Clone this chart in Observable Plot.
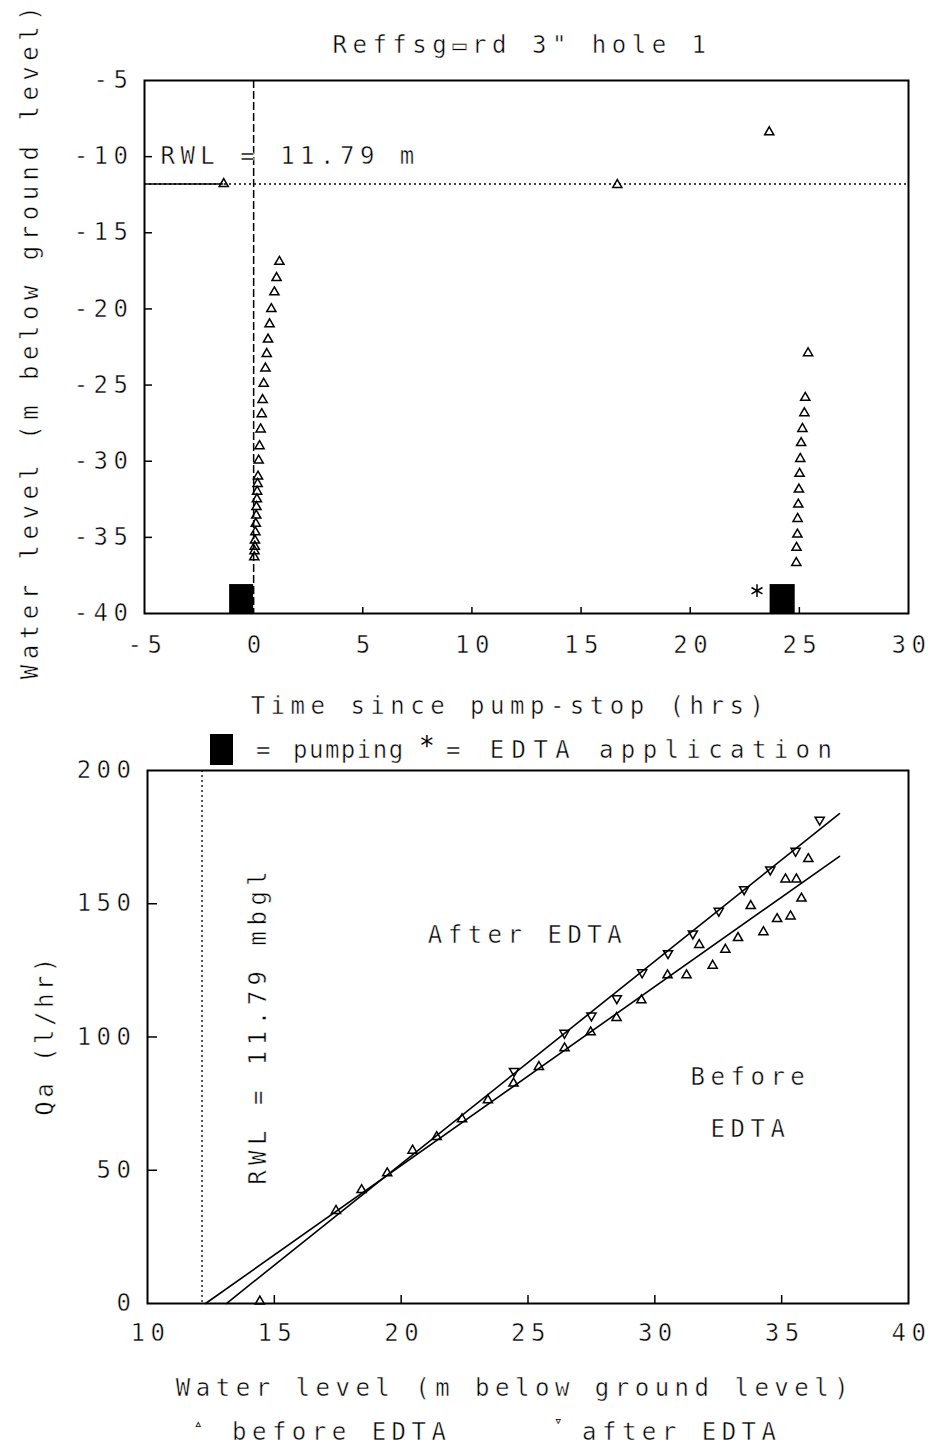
<!DOCTYPE html>
<html><head><meta charset="utf-8">
<script src="https://cdn.jsdelivr.net/npm/d3@7"></script>
<script src="https://cdn.jsdelivr.net/npm/@observablehq/plot@0.6"></script>
<style>
body{margin:0;background:#fff;}
#root{position:relative;width:946px;height:1448px;overflow:hidden;background:#fff;font-family:"DejaVu Sans Mono",monospace;color:#000;}
.lbl{position:absolute;white-space:nowrap;font-size:24px;letter-spacing:5.5px;line-height:1;-webkit-text-stroke:0.5px #fff;paint-order:fill;}
.c{transform:translate(-50%,-50%);}
.r{transform:translate(-50%,-50%) rotate(-90deg);}
#root svg{position:absolute;left:0;overflow:visible;}
#root svg text{stroke:#fff;stroke-width:0.5px;paint-order:fill;}
</style></head><body><div id="root"></div>
<script>
// ---------- Top panel data ----------
const titleText = 'Reffsg\u25ADrd 3" hole 1';
const topXTicks = [-5, 0, 5, 10, 15, 20, 25, 30];
const topYTicks = [-5, -10, -15, -20, -25, -30, -35, -40];
const rwlTop = -11.79;
const timeHrs = [-1.37, 16.66, 23.62,
  1.18, 1.05, 0.95, 0.81, 0.73, 0.66, 0.60, 0.54, 0.46, 0.41, 0.37, 0.32, 0.27, 0.23, 0.20,
  0.18, 0.16, 0.15, 0.13, 0.12, 0.10, 0.08, 0.06, 0.05, 0.04, 0.03,
  25.40, 25.27, 25.23, 25.14, 25.08, 25.04, 25.01, 24.98, 24.95, 24.92, 24.91, 24.87, 24.86];
const waterLevelTop = [-11.79, -11.85, -8.39,
  -16.9, -17.96, -18.9, -20.0, -21.0, -22.0, -22.95, -23.9, -24.9, -25.97, -26.9, -27.9, -29.0, -29.95, -31.0,
  -31.48, -31.99, -32.49, -33.0, -33.56, -34.1, -34.66, -35.2, -35.6, -35.9, -36.3,
  -22.9, -25.83, -26.84, -27.87, -28.8, -29.84, -30.82, -31.85, -32.84, -33.78, -34.81, -35.68, -36.67];
const pumpStart = [-1.1, 23.66];
const pumpEnd = [0, 24.81];
const edtaTime = [23.06];
const edtaLevel = [-38.5];

// ---------- Bottom panel data ----------
const botXTicks = [10, 15, 20, 25, 30, 35, 40];
const botYTicks = [0, 50, 100, 150, 200];
const rwlBottomLine = 12.15;
const beforeWL = [14.43, 17.43, 18.44, 19.45, 20.45, 21.4, 22.4, 23.42, 24.43, 25.43, 26.44, 27.47, 28.49, 29.47,
  30.5, 31.25, 31.75, 32.28, 32.78, 33.28, 33.78, 34.28, 34.82, 35.35, 35.15, 35.58, 35.78, 36.05];
const beforeQa = [0.8, 34.8, 42.6, 48.9, 57.4, 62.5, 69.2, 76.3, 82.6, 88.8, 95.8, 101.8, 107.2, 113.8,
  123.2, 123.2, 134.6, 126.8, 132.8, 137.2, 149.2, 139.4, 144.3, 145.3, 159.2, 159.2, 152.0, 166.8];
const afterWL = [24.45, 26.44, 27.5, 28.5, 29.5, 30.52, 31.5, 32.52, 33.52, 34.55, 35.55, 36.5];
const afterQa = [87.2, 101.5, 108.0, 114.5, 124.2, 131.4, 138.8, 147.3, 155.4, 162.8, 169.8, 181.5];
const fitBeforeWL = [12.29, 37.28];
const fitBeforeQa = [0, 167.8];
const fitAfterWL = [13.11, 37.28];
const fitAfterQa = [0, 183.8];

// ---------- build tables ----------
const topPts = timeHrs.map((t, i) => ({t, wl: waterLevelTop[i]}));
const pumping = pumpStart.map((s, i) => ({s, e: pumpEnd[i]}));
const edta = edtaTime.map((t, i) => ({t, wl: edtaLevel[i]}));
const before = beforeWL.map((w, i) => ({w, q: beforeQa[i]}));
const after = afterWL.map((w, i) => ({w, q: afterQa[i]}));
const fitB = fitBeforeWL.map((w, i) => ({w, q: fitBeforeQa[i]}));
const fitA = fitAfterWL.map((w, i) => ({w, q: fitAfterQa[i]}));

const fmt = d => String(d);
const style = {fontFamily: '"DejaVu Sans Mono", monospace', fontSize: "24px", letterSpacing: "5.5px", background: "transparent", color: "black", overflow: "visible"};
const root = document.getElementById("root");

// ---------- Top plot ----------
const T = {width: 946, height: 700, marginLeft: 144, marginRight: 38, marginTop: 80, marginBottom: 87};
const tFW = T.width - T.marginLeft - T.marginRight, tFH = T.height - T.marginTop - T.marginBottom;
const topPlot = Plot.plot({
  ...T, style,
  x: {domain: [-5, 30]},
  y: {domain: [-40, -5]},
  marks: [
    Plot.axisX({ticks: topXTicks, tickSize: 0, tickPadding: 22, dx: 3, tickFormat: fmt, label: null}),
    Plot.axisY({ticks: topYTicks, tickSize: 0, tickPadding: 11, tickFormat: fmt, label: null}),
    Plot.tickX(topXTicks.slice(2, -1), {x: d => d, insetTop: tFH - 6, strokeWidth: 1.5}),
    Plot.tickY(topYTicks.slice(1, -1), {y: d => d, insetRight: tFW - 8, strokeWidth: 1.5}),
    Plot.ruleY([rwlTop], {strokeDasharray: "2,3", strokeWidth: 1.5}),
    Plot.ruleY([rwlTop], {x1: -5, x2: topPts[0].t, strokeWidth: 1.5}),
    Plot.ruleX([0], {strokeDasharray: "8,3", strokeWidth: 1.5}),
    Plot.rect(pumping, {x1: "s", x2: "e", y1: -40, y2: -38.1, fill: "black"}),
    Plot.dot(edta, {x: "t", y: "wl", symbol: "asterisk", r: 6, stroke: "black", strokeWidth: 1.5}),
    Plot.dot(topPts, {x: "t", y: "wl", symbol: "triangle", r: 3.4, stroke: "black", strokeWidth: 1.5, fill: "none"}),
    Plot.text(["RWL = 11.79 m"], {x: -4.27, y: -10, text: d => d, textAnchor: "start", fontSize: 24}),
    Plot.frame({stroke: "black", strokeWidth: 2})
  ]
});
topPlot.style.top = "0px";
root.appendChild(topPlot);

// ---------- Bottom plot ----------
const B = {width: 946, height: 600, marginLeft: 147, marginRight: 38, marginTop: 10, marginBottom: 57};
const bFW = B.width - B.marginLeft - B.marginRight, bFH = B.height - B.marginTop - B.marginBottom;
const botPlot = Plot.plot({
  ...B, style,
  x: {domain: [10, 40]},
  y: {domain: [0, 200]},
  marks: [
    Plot.axisX({ticks: botXTicks, tickSize: 0, tickPadding: 20, dx: 3, tickFormat: fmt, label: null}),
    Plot.axisY({ticks: botYTicks, tickSize: 0, tickPadding: 11, tickFormat: fmt, label: null}),
    Plot.tickX(botXTicks.slice(1, -1), {x: d => d, insetTop: bFH - 8, strokeWidth: 1.5}),
    Plot.tickY(botYTicks.slice(1, -1), {y: d => d, insetRight: bFW - 10, strokeWidth: 1.5}),
    Plot.ruleX([rwlBottomLine], {strokeDasharray: "2,3", strokeWidth: 1.3}),
    Plot.line(fitB, {x: "w", y: "q", strokeWidth: 1.6}),
    Plot.line(fitA, {x: "w", y: "q", strokeWidth: 1.6}),
    Plot.dot(before, {x: "w", y: "q", symbol: "triangle", r: 3.4, stroke: "black", strokeWidth: 1.5, fill: "none"}),
    Plot.dot(after, {x: "w", y: "q", symbol: "triangle", rotate: 180, r: 3.4, stroke: "black", strokeWidth: 1.5, fill: "none"}),
    Plot.text(["RWL = 11.79 mbgl"], {x: 14.38, y: 104.4, text: d => d, rotate: -90, fontSize: 24}),
    Plot.text(["After EDTA"], {x: 24.98, y: 138, text: d => d, fontSize: 24}),
    Plot.text(["Before\nEDTA"], {x: 33.77, y: 78.5, text: d => d, lineHeight: 2.17, fontSize: 24}),
    Plot.frame({stroke: "black", strokeWidth: 2})
  ]
});
botPlot.style.top = "760px";
root.appendChild(botPlot);

// ---------- HTML labels ----------
function lbl(text, x, y, cls, extra) {
  const d = document.createElement("div");
  d.className = "lbl " + (cls || "");
  d.textContent = text;
  d.style.left = x + "px"; d.style.top = y + "px";
  if (extra) Object.assign(d.style, extra);
  root.appendChild(d);
  return d;
}
const plain = {webkitTextStroke: "0px", letterSpacing: "0"};
lbl(titleText, 522, 45, "c");
lbl("Water level (m below ground level)", 30, 340, "r");
lbl("Time since pump-stop (hrs)", 510, 706, "c");
// legend 1
const box = document.createElement("div");
Object.assign(box.style, {position: "absolute", left: "210px", top: "734px", width: "23px", height: "31px", background: "black"});
root.appendChild(box);
lbl("=", 256, 738, "");
lbl("pumping", 293, 738, "", {letterSpacing: "1.5px"});
lbl("*", 419, 733, "", {...plain, fontSize: "26px"});
lbl("= EDTA application", 446, 738, "", {letterSpacing: "7.4px"});
// bottom labels
lbl("Qa (l/hr)", 45, 1035, "r", {letterSpacing: "3.5px"});
lbl("Water level (m below ground level)", 515, 1388, "c");
lbl("\u25B5", 194, 1416, "", {...plain, fontSize: "14px"});
lbl("before EDTA", 232, 1420, "");
lbl("\u25BF", 554, 1413, "", {...plain, fontSize: "14px"});
lbl("after EDTA", 582, 1420, "");
</script>
</body></html>
